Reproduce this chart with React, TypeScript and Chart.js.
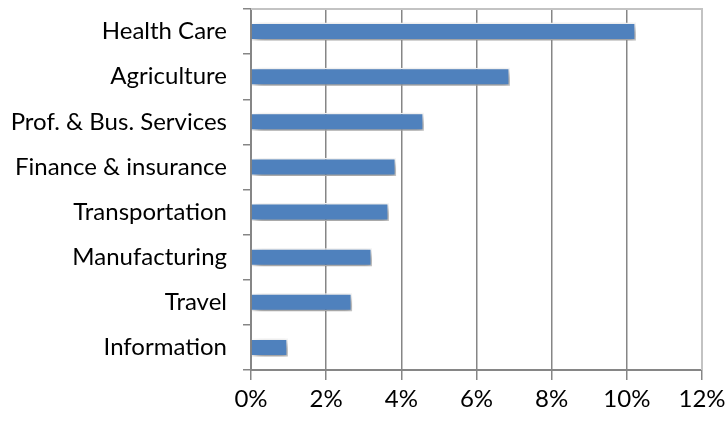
import React, { useEffect, useRef } from "react";
import { Chart, registerables } from "chart.js";

Chart.register(...registerables);

const categories = [
  "Health Care",
  "Agriculture",
  "Prof. & Bus. Services",
  "Finance & insurance",
  "Transportation",
  "Manufacturing",
  "Travel",
  "Information",
];
const values = [10.24, 6.89, 4.6, 3.86, 3.67, 3.22, 2.69, 0.98];
const xTicks = [0, 2, 4, 6, 8, 10, 12];

const FONT = "Lato, 'Open Sans', sans-serif";

const shadowPlugin = {
  id: "barShadow",
  beforeDatasetDraw(chart: any) {
    const ctx = chart.ctx;
    ctx.save();
    ctx.shadowColor = "rgba(0,0,0,0.45)";
    ctx.shadowBlur = 8;
    ctx.shadowOffsetX = 3;
    ctx.shadowOffsetY = 4;
  },
  afterDatasetDraw(chart: any) {
    chart.ctx.restore();
  },
};

const frameBorder = {
  id: "frameBorder",
  afterDraw(chart: any) {
    const { ctx, chartArea } = chart;
    ctx.save();
    ctx.strokeStyle = "#c3c3c3";
    ctx.lineWidth = 2;
    ctx.beginPath();
    ctx.moveTo(chartArea.left, chartArea.top);
    ctx.lineTo(chartArea.right, chartArea.top);
    ctx.lineTo(chartArea.right, chartArea.bottom);
    ctx.stroke();
    ctx.restore();
  },
};

export default function App() {
  const ref = useRef<HTMLCanvasElement>(null);
  useEffect(() => {
    if (!ref.current) return;
    const chart = new Chart(ref.current, {
      type: "bar",
      data: {
        labels: categories,
        datasets: [
          {
            data: values,
            backgroundColor: "#4F81BD",
            borderColor: "#ffffff",
            borderWidth: 1.5,
            barPercentage: 0.4,
            categoryPercentage: 1,
          },
        ],
      },
      options: {
        indexAxis: "y",
        animation: false,
        responsive: false,
        layout: { padding: { top: 9, right: 26, left: 0, bottom: 0 } },
        plugins: { legend: { display: false }, tooltip: { enabled: false } },
        scales: {
          x: {
            min: 0,
            max: 12,
            afterBuildTicks(scale: any) {
              scale.ticks = xTicks.map((v) => ({ value: v }));
            },
            afterFit(scale: any) {
              scale.height = 54;
              scale.paddingLeft = 0;
              scale.paddingRight = 0;
            },
            ticks: {
              callback: (v: any) => v + "%",
              color: "#000",
              font: { family: FONT, size: 24 },
              padding: 5,
              maxRotation: 0,
            },
            grid: {
              color: "#868686",
              lineWidth: 1.5,
              tickLength: 10,
              drawOnChartArea: true,
            },
            border: { color: "#868686", width: 2 },
          },
          y: {
            afterFit(scale: any) {
              scale.width = 251;
              scale.paddingTop = 0;
              scale.paddingBottom = 0;
            },
            ticks: {
              color: "#000",
              font: { family: FONT, size: 24 },
              padding: 16,
              autoSkip: false,
            },
            grid: {
              offset: true,
              drawOnChartArea: false,
              color: "#868686",
              lineWidth: 1.5,
              tickLength: 8,
            },
            border: { color: "#868686", width: 2 },
          },
        },
      },
      plugins: [shadowPlugin, frameBorder],
    });
    return () => chart.destroy();
  }, []);
  return (
    <div style={{ position: "fixed", left: 0, top: 0, width: 728, height: 424, background: "#fff" }}>
      <canvas ref={ref} width={728} height={424} style={{ width: 728, height: 424 }} />
    </div>
  );
}
